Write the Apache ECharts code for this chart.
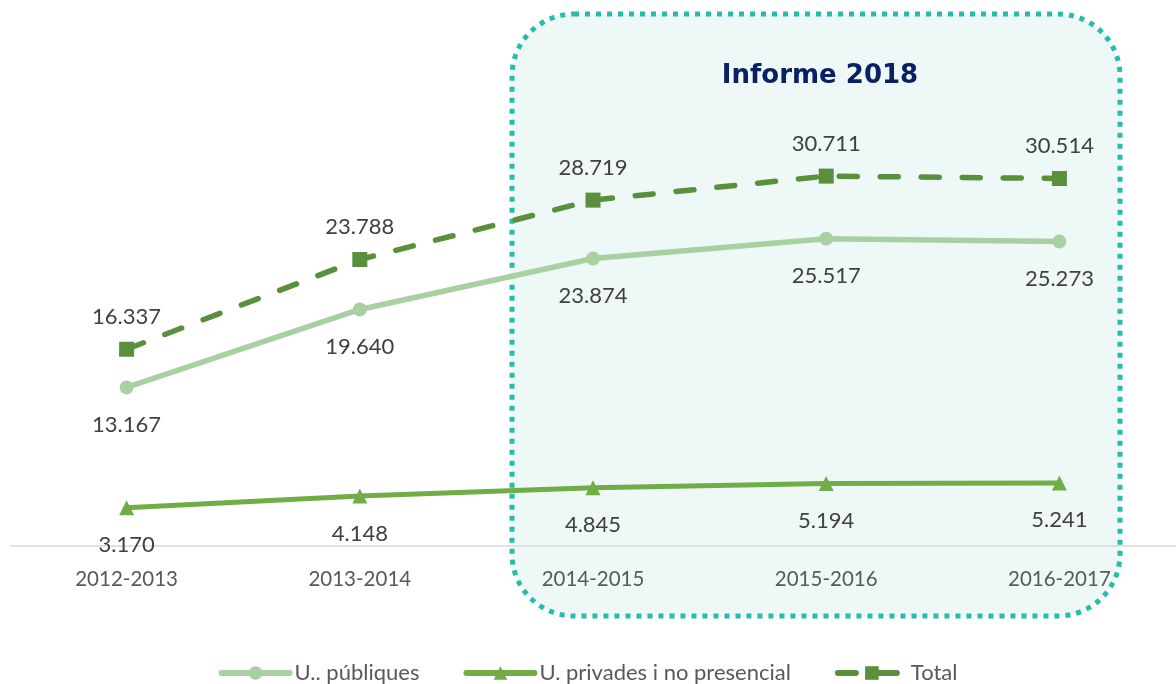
<!DOCTYPE html>
<html>
<head>
<meta charset="utf-8">
<title>ECharts</title>
<script src="https://cdn.jsdelivr.net/npm/echarts@6/dist/echarts.min.js"></script>
<style>
  html, body { margin: 0; padding: 0; background: #fff; }
  #main { width: 1176px; height: 684px; }
</style>
</head>
<body>
<div id="main"></div>
<script type="text/javascript">
var cursos = ['2012-2013', '2013-2014', '2014-2015', '2015-2016', '2016-2017'];
var publiques = [13167, 19640, 23874, 25517, 25273];
var privades = [3170, 4148, 4845, 5194, 5241];
var total = [16337, 23788, 28719, 30711, 30514];

var font = 'Lato';

function fmt(v) {
  return String(v).replace(/\B(?=(\d{3})+(?!\d))/g, '.');
}

var myChart = echarts.init(document.getElementById('main'));

var option = {
  backgroundColor: '#ffffff',
  animation: false,
  textStyle: { fontFamily: font },
  title: {
    text: 'Informe 2018',
    left: 815,
    top: 58,
    textAlign: 'center',
    textStyle: {
      fontFamily: 'DejaVu Sans',
      fontWeight: 'bold',
      fontSize: 26,
      color: '#0a2063'
    }
  },
  graphic: [{
    type: 'rect',
    z: -10,
    shape: { x: 512, y: 14, width: 608, height: 602, r: 62 },
    style: {
      fill: '#eef8f7',
      stroke: '#26bcac',
      lineWidth: 5,
      lineDash: [5, 6]
    }
  }],
  legend: {
    top: 657,
    left: 'center',
    itemWidth: 68,
    itemHeight: 17,
    itemGap: 44,
    lineStyle: { width: 6, cap: 'round' },
    textStyle: { fontFamily: font, fontSize: 22, color: '#595959' },
    data: ['U.. públiques', 'U. privades i no presencial', 'Total']
  },
  grid: { left: 10, right: 0, top: 4, bottom: 138 },
  xAxis: {
    type: 'category',
    data: cursos,
    boundaryGap: true,
    axisLine: { lineStyle: { color: '#d9d9d9', width: 1.5 } },
    axisTick: { show: false },
    axisLabel: { margin: 23, fontFamily: font, fontSize: 20.5, color: '#595959' }
  },
  yAxis: {
    type: 'value',
    min: 0,
    max: 45000,
    show: false,
    splitLine: { show: false }
  },
  series: [{
    name: 'U.. públiques',
    type: 'line',
    data: publiques,
    symbol: 'circle',
    symbolSize: 14,
    lineStyle: { width: 5.5, color: '#a9d0a0' },
    itemStyle: { color: '#a9d0a0' },
    label: {
      show: true, position: 'bottom', distance: 19,
      fontFamily: font, fontSize: 22, color: '#404040',
      formatter: function (p) { return fmt(p.value); }
    }
  }, {
    name: 'U. privades i no presencial',
    type: 'line',
    data: privades,
    symbol: 'triangle',
    symbolSize: 15,
    lineStyle: { width: 5, color: '#70ad47' },
    itemStyle: { color: '#70ad47' },
    label: {
      show: true, position: 'bottom', distance: 19,
      fontFamily: font, fontSize: 22, color: '#404040',
      formatter: function (p) { return fmt(p.value); }
    }
  }, {
    name: 'Total',
    type: 'line',
    data: total,
    symbol: 'rect',
    symbolSize: 15,
    lineStyle: { width: 5.5, color: '#5a8f3c', type: [18, 23], cap: 'round' },
    itemStyle: { color: '#5a8f3c' },
    label: {
      show: true, position: 'top', distance: 14,
      fontFamily: font, fontSize: 22, color: '#404040',
      formatter: function (p) { return fmt(p.value); }
    }
  }]
};

myChart.setOption(option);
</script>
</body>
</html>
